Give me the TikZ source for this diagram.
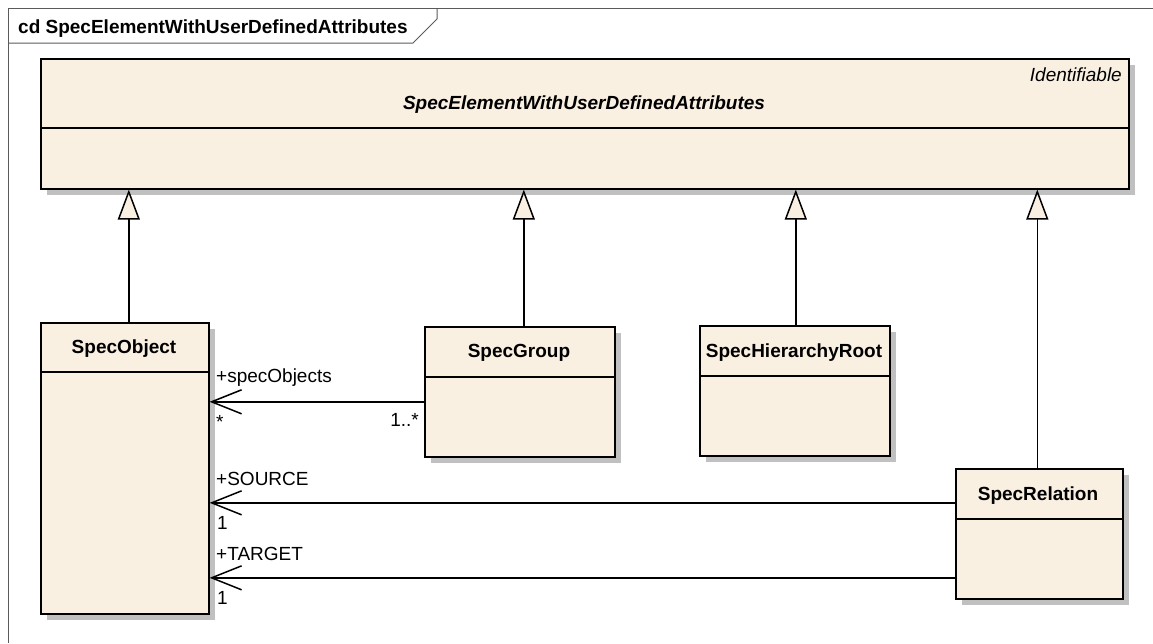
\documentclass[tikz,border=0pt]{standalone}
\usepackage{fontspec}
\setmainfont{Liberation Sans}
\usetikzlibrary{arrows.meta,shadows,calc}
\definecolor{beige}{RGB}{250,240,226}
\definecolor{shadowgray}{RGB}{192,192,192}
\definecolor{framegray}{RGB}{90,90,90}
\tikzset{
  classbox/.style={draw=black, line width=1.6pt, fill=beige, anchor=north west, inner sep=0pt,
    general shadow={fill=shadowgray, shadow xshift=6pt, shadow yshift=-6pt}},
  divider/.style={draw=black, line width=1.4pt},
  clsname/.style={font=\fontsize{19}{22}\selectfont\bfseries, inner sep=0pt},
  lbl/.style={font=\fontsize{19}{22}\selectfont, inner sep=0pt},
  gen/.style={draw=black, line width=1.5pt, -{Triangle[length=30pt,width=22pt,fill=beige,line width=1.5pt]}},
  assoc/.style={draw=black, line width=1.5pt, -{Straight Barb[length=30pt,width=24pt,line width=1.5pt]}},
}
\begin{document}
\begin{tikzpicture}[x=1pt,y=-1pt]
\useasboundingbox (0,0) rectangle (1153,643);
% frame
\draw[framegray, line width=1pt] (8,643) -- (8,8) -- (1153,8);
\draw[framegray, line width=1pt] (8,43) -- (413,43) -- (437,19) -- (437,8);
\node[anchor=base west, font=\fontsize{19}{22}\selectfont\bfseries, inner sep=0pt] (frametitle) at (18,33) {cd SpecElementWithUserDefinedAttributes};
% base class
\node[classbox, minimum width=1088pt, minimum height=130pt] (base) at (40,58) {};
\draw[divider] (40,128) -- (1128,128);
\node[anchor=east, font=\fontsize{19}{22}\selectfont\itshape, inner sep=0pt] (stereo) at (1122,75) {Identifiable};
\node[clsname, font=\fontsize{19}{22}\selectfont\bfseries\itshape] (basename) at (584,105) {SpecElementWithUserDefinedAttributes};
% SpecObject
\node[classbox, minimum width=168pt, minimum height=291pt] (so) at (40,322) {};
\draw[divider] (40,372) -- (208,372);
\node[clsname] (soname) at (124,349) {SpecObject};
% SpecGroup
\node[classbox, minimum width=190pt, minimum height=130pt] (sg) at (424,326) {};
\draw[divider] (424,377) -- (614,377);
\node[clsname] (sgname) at (519,353) {SpecGroup};
% SpecHierarchyRoot
\node[classbox, minimum width=190pt, minimum height=130pt] (sh) at (699,325) {};
\draw[divider] (699,376) -- (889,376);
\node[clsname] (shname) at (794,353) {SpecHierarchyRoot};
% SpecRelation
\node[classbox, minimum width=167pt, minimum height=130pt] (sr) at (955,468) {};
\draw[divider] (955,519) -- (1122,519);
\node[clsname] (srname) at (1038,496) {SpecRelation};
% generalizations
\draw[gen] ([xshift=4pt]so.north) -- ([xshift=4pt]so.north |- base.south);
\draw[gen] ([xshift=4pt]sg.north) -- ([xshift=4pt]sg.north |- base.south);
\draw[gen] ([xshift=1pt]sh.north) -- ([xshift=1pt]sh.north |- base.south);
\draw[gen] ([xshift=-2pt]sr.north) -- ([xshift=-2pt]sr.north |- base.south);
% associations
\coordinate (a1) at ([yshift=-10pt]sg.west);
\coordinate (a2) at ([yshift=31pt]sr.west);
\coordinate (a3) at ([yshift=-44pt]sr.west);
\draw[assoc] (a1) -- (so.east |- a1);
\draw[assoc] (a2) -- (so.east |- a2);
\draw[assoc] (a3) -- (so.east |- a3);
% labels
\node[lbl, anchor=west] (l1) at (216,378) {+specObjects};
\node[lbl, anchor=west] (l2) at (216,422) {*};
\node[lbl, anchor=east] (l3) at (419,420) {1..*};
\node[lbl, anchor=west] (l4) at (216,479) {+SOURCE};
\node[lbl, anchor=west] (l5) at (217,523) {1};
\node[lbl, anchor=west] (l6) at (216,554) {+TARGET};
\node[lbl, anchor=west] (l7) at (217,598) {1};
\end{tikzpicture}
\end{document}
